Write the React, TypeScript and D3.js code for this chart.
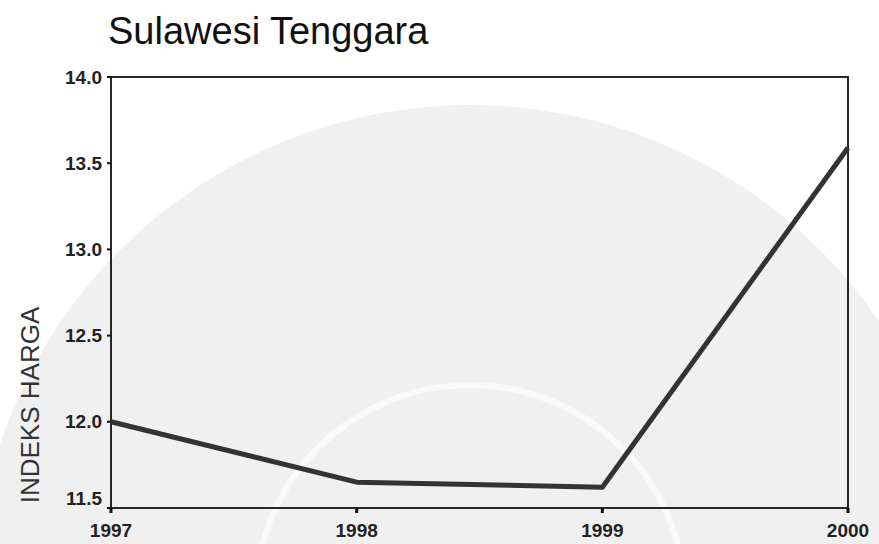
import React from 'react';
import * as d3 from 'd3';

const years = [1997, 1998, 1999, 2000];
const indeks = [12.0, 11.65, 11.62, 13.59];
const yTicks = [11.5, 12.0, 12.5, 13.0, 13.5, 14.0];

const W = 879;
const H = 544;
const m = { left: 111, right: 31, top: 77, bottom: 36 };

export default function App() {
  const x = d3.scaleLinear().domain([1997, 2000]).range([m.left, W - m.right]);
  const y = d3.scaleLinear().domain([11.5, 14.0]).range([H - m.bottom, m.top]);
  const line = d3
    .line<number>()
    .x((_, i) => x(years[i]))
    .y((d) => y(d));

  const font = 'Liberation Sans, Arial, sans-serif';
  const cx = 470;
  const cy = 600;

  return (
    <svg
      width={W}
      height={H}
      style={{ position: 'absolute', left: 0, top: 0, background: '#fff' }}
    >
      {/* faint watermark circles */}
      <circle cx={cx} cy={cy} r={495} fill="#f0f0f0" />
      <circle cx={cx} cy={cy} r={215} fill="none" stroke="#fafafa" strokeWidth={6} />

      <text x={108} y={44} fontFamily={font} fontSize={38} fill="#111">
        Sulawesi Tenggara
      </text>

      {/* frame */}
      <rect
        x={m.left}
        y={m.top}
        width={W - m.left - m.right}
        height={H - m.top - m.bottom}
        fill="none"
        stroke="#111"
        strokeWidth={1.8}
      />

      {yTicks.map((t) => (
        <g key={t}>
          <line x1={m.left - 4} x2={m.left} y1={y(t)} y2={y(t)} stroke="#111" strokeWidth={2} />
          <text
            x={m.left - 9}
            y={y(t) - (t === 11.5 ? 10 : 0)}
            dy="0.35em"
            textAnchor="end"
            fontFamily={font}
            fontSize={19}
            fontWeight="bold"
            fill="#222"
          >
            {t.toFixed(1)}
          </text>
        </g>
      ))}

      {years.map((yr) => (
        <g key={yr}>
          <line x1={x(yr)} x2={x(yr)} y1={H - m.bottom} y2={H - m.bottom + 5} stroke="#111" strokeWidth={3} />
          <text
            x={x(yr)}
            y={H - m.bottom + 29}
            textAnchor="middle"
            fontFamily={font}
            fontSize={19}
            fontWeight="bold"
            fill="#222"
          >
            {yr}
          </text>
        </g>
      ))}

      <text
        transform={`translate(39, 405) rotate(-90)`}
        textAnchor="middle"
        fontFamily={font}
        fontSize={26}
        fill="#333"
      >
        INDEKS HARGA
      </text>

      <path
        d={line(indeks) || ''}
        fill="none"
        stroke="#333"
        strokeWidth={5}
        strokeLinejoin="round"
      />
    </svg>
  );
}
